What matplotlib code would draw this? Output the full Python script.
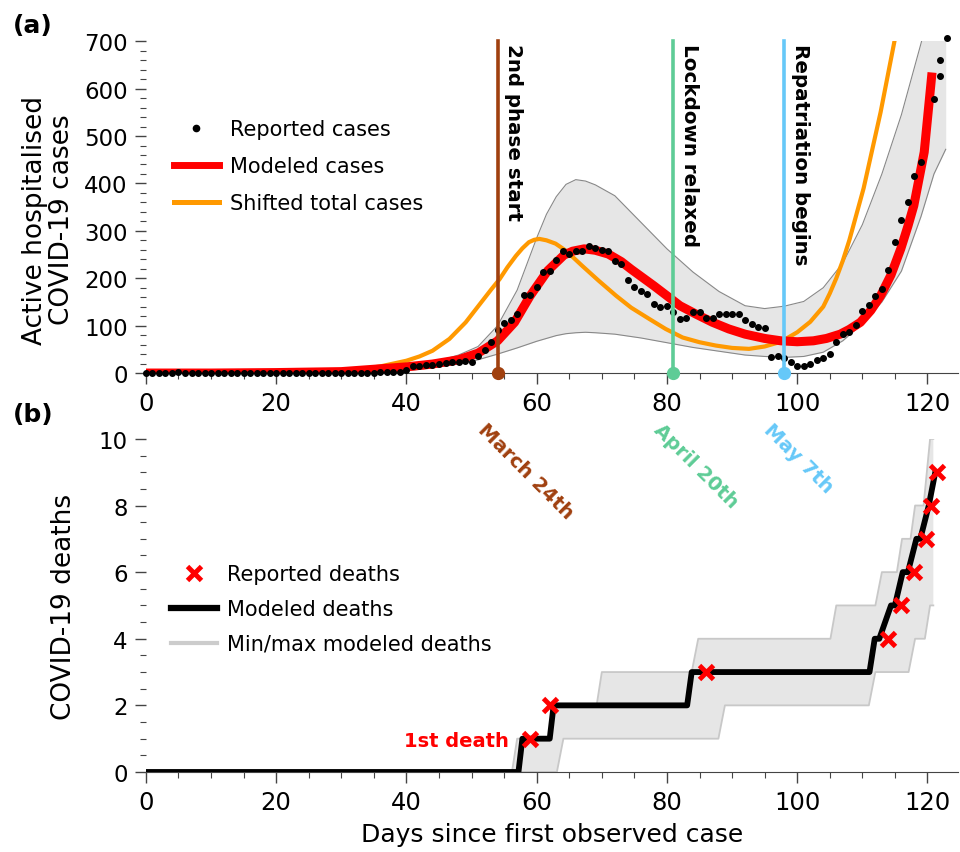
import numpy as np
import matplotlib
matplotlib.use("Agg")
import matplotlib.pyplot as plt
from matplotlib.lines import Line2D

# ---- panel (a): hospitalised cases ----
case_days = list(range(0, 120)) + [121, 122, 122, 123]
case_vals = [1, 1, 1, 1, 1, 2, 1, 1, 1, 1, 1, 1, 1, 1, 1, 1, 1, 1, 1, 1,
             1, 1, 1, 1, 1, 1, 1, 1, 1, 1, 1, 1, 1, 1, 1, 1, 2, 2, 2, 3,
             7, 14, 15, 16, 18, 19, 21, 23, 23, 25, 23, 37, 48, 65, 90, 105, 112, 125, 165, 165,
             181, 214, 216, 238, 257, 252, 257, 257, 267, 264, 260, 257, 236, 229, 196, 181, 174, 167, 146, 139,
             141, 129, 115, 116, 128, 129, 116, 116, 124, 124, 124, 124, 111, 103, 98, 94, 34, 36, 31, 24,
             15, 15, 20, 27, 32, 41, 65, 82, 86, 101, 131, 143, 162, 177, 218, 276, 322, 360, 416, 446,
             578, 626, 660, 706]

model_days = [0, 10, 20, 30, 35, 40, 44, 48, 51, 54, 56.6, 59, 61.7, 64.2, 65.5, 67.3, 69, 71, 73,
              74.5, 76, 78, 80, 82, 84.5, 87, 89.5, 92, 95, 97.5, 100, 102.5, 104.5, 106.6, 108,
              109.7, 111.3, 112.8, 114.4, 115.9, 117, 117.9, 119.5, 120.7]
model_vals = [0, 0, 1, 3, 8, 13, 19, 28, 42, 68, 107, 163, 216, 249, 257, 262, 259, 251, 235,
              219, 204, 184, 163, 142, 124, 107, 93, 82, 73, 68, 66, 68, 73, 82, 92,
              107, 132, 163, 207, 262, 310, 353, 466, 634]

shift_days = [9, 20, 25, 30, 33, 36, 40, 42, 44, 46.6, 49.1, 51.7, 53, 54.3, 55.5, 56.8, 57.8, 58.8,
              59.6, 60.4, 61.5, 62.9, 64.5, 67, 69.5, 72.2, 74.5, 77.3, 79.8, 82.4, 85, 87.5, 90,
              92.6, 95, 97.5, 100, 102, 104, 105, 106, 107, 108, 110.2, 112.8, 115.4]
shift_vals = [0, 1, 3, 6, 8, 14, 26, 35, 47, 72, 107, 153, 176, 198, 223, 247, 263, 276,
              281, 283, 280, 273, 258, 226, 195, 163, 138, 114, 93, 75, 65, 58, 53,
              51, 56, 66, 86, 108, 140, 168, 200, 237, 280, 390, 550, 733]

band_days = [30, 36, 40, 44, 48, 51, 54, 57, 60, 61.5, 63, 64.5, 66, 67.5, 69, 72, 76, 80, 84, 88,
             92, 95, 98, 101, 104, 107, 110, 113, 116, 119, 121, 122.8]
band_upper = [2, 6, 12, 22, 38, 56, 100, 175, 285, 335, 372, 398, 408, 405, 397, 374, 318, 262,
              213, 172, 142, 136, 141, 151, 180, 232, 313, 420, 545, 695, 800, 900]
band_lower = [0, 2, 5, 11, 19, 28, 40, 53, 67, 73, 79, 83, 85, 86, 85, 82, 74, 64, 54, 46,
              38, 35, 33, 35, 44, 68, 104, 150, 215, 330, 420, 472]

event_days = [54, 81, 98]
event_names = ["2nd phase start", "Lockdown relaxed", "Repatriation begins"]
event_dates = ["March 24th", "April 20th", "May 7th"]
event_colors = ["#A0400F", "#5ECC96", "#66C8F8"]

# ---- panel (b): deaths ----
death_days = [59, 62, 86, 114, 116, 118, 119.7, 120.6, 121.4]
death_vals = [1, 2, 3, 4, 5, 6, 7, 8, 9]

mdeath_days = [0, 57.2, 57.8, 62.0, 62.6, 83.1, 83.8, 111.1, 111.9, 112.6, 114.4, 115.0,
               116.2, 117.0, 118.3, 118.9, 120.2, 121.2]
mdeath_vals = [0, 0, 1, 1, 2, 2, 3, 3, 4, 4, 5, 5, 6, 6, 7, 7, 8, 9]

dup_days = [56.2, 57.0, 62.0, 62.6, 69.2, 70.0, 83.8, 84.8, 105.1, 106.0, 112.0, 113.0,
            115.3, 116.1, 117.4, 118.1, 119.4, 119.9, 120.4, 120.9]
dup_vals = [0, 1, 1, 2, 2, 3, 3, 4, 4, 5, 5, 6, 6, 7, 7, 8, 8, 9, 10, 10]
dlo_days = [56.2, 63.1, 64.1, 87.9, 88.9, 111.0, 112.0, 117.1, 118.1, 119.6, 120.4, 120.9]
dlo_vals = [0, 0, 1, 1, 2, 2, 3, 3, 4, 4, 5, 5]

fig = plt.figure(figsize=(9.6, 8.53), dpi=100)
ax1 = fig.add_axes([0.152, 0.5615, 0.846, 0.389])
ax2 = fig.add_axes([0.152, 0.0938, 0.846, 0.3905])
ax1.set_zorder(3)

for ax in (ax1, ax2):
    ax.spines["top"].set_visible(False)
    ax.spines["right"].set_visible(False)
    ax.spines["left"].set_visible(False)
    ax.spines["bottom"].set_color("#444444")
    ax.set_xlim(0, 124.7)
    ax.set_xticks(range(0, 121, 20))
    ax.set_xticks(range(0, 125, 5), minor=True)
    ax.tick_params(which="major", direction="out", length=8, width=1, color="#444444", pad=5)
    ax.tick_params(which="minor", direction="out", length=4.5, width=0.8, color="#444444")
    ax.tick_params(axis="x", which="major", labelsize=17.5)
    ax.tick_params(axis="y", which="major", labelsize=16.5)

# panel a
ax1.set_ylim(0, 700)
ax1.set_yticks(range(0, 701, 100))
ax1.set_yticks(range(0, 701, 20), minor=True)
ax1.fill_between(band_days, band_lower, band_upper, color="#E6E6E6", lw=0)
ax1.plot(band_days, band_upper, color="#888888", lw=0.8)
ax1.plot(band_days, band_lower, color="#888888", lw=0.8)
ax1.plot(shift_days, shift_vals, color="#FF9900", lw=3, zorder=3)
ax1.plot(model_days, model_vals, color="#FF0000", lw=6.5, solid_capstyle="butt", zorder=4)
ax1.plot(case_days, case_vals, "o", color="black", ms=4, zorder=5, clip_on=False)

for d, name, date, c in zip(event_days, event_names, event_dates, event_colors):
    ax1.plot([d, d], [0, 700], color=c, lw=2.6, zorder=6, clip_on=False)
    ax1.plot([d], [0], "o", color=c, ms=8.5, zorder=7, clip_on=False)
    ax1.text(d + 1.0, 696, name, rotation=-90, ha="left", va="top",
             fontsize=14.3, fontweight="bold", zorder=8)
    ax1.text(d - 1.6, -98, date, rotation=-45, rotation_mode="anchor", ha="left", va="top",
             fontsize=14.2, fontweight="bold", color=c, clip_on=False)

ax1.set_ylabel("Active hospitalised\nCOVID-19 cases", fontsize=19, linespacing=1.05)
ax1.yaxis.set_label_coords(-0.087, 0.464)

h_a = [Line2D([], [], ls="none", marker="o", color="black", ms=4.5),
       Line2D([], [], color="#FF0000", lw=5),
       Line2D([], [], color="#FF9900", lw=3.6)]
ax1.legend(h_a, ["Reported cases", "Modeled cases", "Shifted total cases"],
           loc="upper left", bbox_to_anchor=(0.034, 0.765), frameon=False,
           fontsize=15, handlelength=2.2, handletextpad=0.5, labelspacing=0.82,
           borderpad=0, borderaxespad=0)

# panel b
ax2.set_ylim(0, 10)
ax2.set_yticks(range(0, 11, 2))
ax2.set_yticks(np.arange(0, 10.01, 0.5), minor=True)
ax2.fill(dup_days + dlo_days[::-1], dup_vals + dlo_vals[::-1], color="#E6E6E6", lw=0)
ax2.plot(dup_days, dup_vals, color="#C8C8C8", lw=1.3)
ax2.plot(dlo_days, dlo_vals, color="#C8C8C8", lw=1.3)
ax2.plot(mdeath_days, mdeath_vals, color="black", lw=4.2, zorder=4)
ax2.plot(death_days, death_vals, "x", color="#FF0000", ms=10, mew=3.5, zorder=5, clip_on=False)
ax2.text(55.8, 0.95, "1st death", color="#FF0000", fontsize=14, fontweight="bold",
         ha="right", va="center")

ax2.set_ylabel("COVID-19 deaths", fontsize=19)
ax2.yaxis.set_label_coords(-0.085, 0.5)
ax2.set_xlabel("Days since first observed case", fontsize=18, labelpad=6)

h_b = [Line2D([], [], ls="none", marker="x", color="#FF0000", ms=10, mew=3.5),
       Line2D([], [], color="black", lw=4.5),
       Line2D([], [], color="#CCCCCC", lw=3)]
ax2.legend(h_b, ["Reported deaths", "Modeled deaths", "Min/max modeled deaths"],
           loc="upper left", bbox_to_anchor=(0.031, 0.625), frameon=False,
           fontsize=15, handlelength=2.2, handletextpad=0.5, labelspacing=0.72,
           borderpad=0, borderaxespad=0)

fig.text(0.0135, 0.984, "(a)", fontsize=18, fontweight="bold", va="top")
fig.text(0.0135, 0.528, "(b)", fontsize=18, fontweight="bold", va="top")

fig.savefig("out.png", dpi=100)
